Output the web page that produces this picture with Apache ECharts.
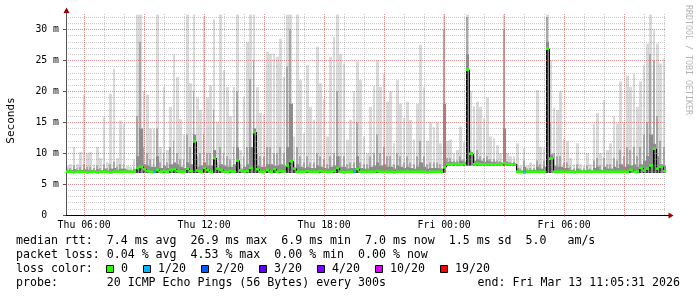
<!DOCTYPE html>
<html><head><meta charset="utf-8">
<script src="https://cdn.jsdelivr.net/npm/echarts@6/dist/echarts.min.js"></script>
<style>html,body{margin:0;padding:0;background:#fff}#c{width:697px;height:297px}</style>
</head><body><div id="c"></div>
<script>
// time in hours since Thu 00:00
const startHour = 5 + 5/60 + 31/3600;   // Thu 05:05:31
const endHour = startHour + 30;          // Fri 11:05:31
const slotHours = 1/6;                   // 10-minute slots

// smoke (ms): lowest ping, top of light / mid / dark layers, and median rtt
const smokeLow = [
 6.8,6.8,6.8,6.8,6.8,6.8,6.8,6.8,6.8,6.8, 6.8,6.8,6.8,6.8,6.8,6.8,6.8,6.8,6.8,6.8,
 6.8,6.8,6.8,6.8,6.8,6.8,6.8,6.8,6.8,6.8, 6.8,6.8,6.8,6.8,6.8,6.8,6.8,6.8,6.8,6.8,
 6.8,6.8,6.8,6.8,6.8,6.8,6.8,6.8,6.8,6.8, 6.8,6.8,6.8,6.8,6.8,6.8,6.8,6.8,6.8,6.8,
 6.8,6.8,6.8,6.8,6.8,6.8,6.8,6.8,6.8,6.8, 6.8,6.8,6.8,6.8,6.8,6.8,6.8,6.8,6.8,6.8,
 6.8,6.8,6.8,6.8,6.8,6.8,6.8,6.8,6.8,6.8, 6.8,6.8,6.8,6.8,6.8,6.8,6.8,6.8,6.8,6.8,
 6.8,6.8,6.8,6.8,6.8,6.8,6.8,6.8,6.8,6.8, 6.8,6.8,6.8,6.8,8.0,8.0,8.0,8.0,8.0,8.0,
 8.0,8.0,8.0,8.0,8.0,8.0,8.0,8.0,8.0,8.0, 8.0,8.0,8.0,8.0,8.0,6.8,6.8,6.8,6.8,6.8,
 6.8,6.8,6.8,6.8,6.8,6.8,6.8,6.8,6.8,6.8, 6.8,6.8,6.8,6.8,6.8,6.8,6.8,6.8,6.8,6.8,
 6.8,6.8,6.8,6.8,6.8,6.8,6.8,6.8,6.8,6.8, 6.8,6.8,6.8,6.8,6.8,6.8,6.8,6.8,6.8,6.8
];
const smokeMax = [
 8.0, 8.2, 11.0, 8.2, 10.2, 19.4, 10.0, 10.2, 8.2, 11.0,
 9.2, 15.9, 8.5, 19.6, 23.7, 9.2, 15.3, 14.8, 8.0, 7.8,
 9.0, 32.4, 32.4, 20.0, 19.5, 14.0, 14.0, 32.4, 11.0, 20.7,
 10.5, 17.5, 26.0, 22.3, 15.5, 13.0, 32.4, 21.3, 32.4, 19.0,
 17.0, 32.1, 19.0, 21.0, 31.6,
 15.1, 32.4, 23.4, 20.7, 16.0, 20.7, 32.4, 10.5, 19.1, 28.0,
 32.4, 32.4, 20.7, 16.5, 16.3, 26.4, 26.1, 26.1, 25.6, 28.5,
 22.3, 32.4, 32.4, 12.7, 32.4, 21.8, 13.2, 24.2, 17.5, 15.4,
 27.2, 21.3, 18.8, 12.7, 25.6, 28.8, 32.4, 26.0, 24.5, 12.2,
 15.4, 20.0, 24.8, 21.8, 12.7,
 10.0, 17.5, 20.9, 25.0, 20.7, 22.8, 18.3, 20.0, 11.6, 21.8,
 18.0, 15.7, 18.3, 15.4, 12.2, 18.0, 27.5, 20.7, 12.0, 15.0,
 14.2, 15.0, 11.6, 32.4, 12.0, 12.2, 10.0, 10.5, 14.3, 11.8,
 32.4, 20.0, 17.6, 18.3, 17.5, 15.6, 19.0, 12.7, 12.4, 11.3,
 10.0, 32.4, 10.0, 9.5, 9.5,
 11.6, 8.0, 10.8, 8.0, 8.5, 8.2, 20.2, 11.0, 10.8, 32.4,
 25.0, 17.3, 17.0, 20.0, 12.3, 12.0, 9.2, 8.2, 11.6, 8.2,
 8.0, 10.0, 8.2, 14.8, 16.5, 10.0, 18.6, 10.5, 11.6, 16.0,
 14.8, 21.6, 15.0, 22.6, 20.7, 22.8, 17.5, 21.6, 24.2, 27.7,
 32.4, 30.0, 27.7, 24.5, 25.3
];
const smokeMid = [
 7.5, 7.6, 8.0, 7.5, 7.8, 8.2, 7.8, 7.8, 7.6, 8.0,
 7.6, 8.2, 7.6, 8.2, 8.6, 7.8, 8.2, 8.2, 7.4, 7.3,
 7.8, 16.0, 28.0, 11.0, 10.0, 9.0, 9.0, 14.0, 8.5, 10.0,
 8.5, 11.0, 12.0, 10.0, 9.0, 9.0, 13.0, 11.0, 20.0, 9.5,
 10.0, 13.0, 10.0, 10.0, 17.0,
 8.5, 11.0, 10.0, 9.5, 9.0, 11.0, 20.0, 8.2, 9.5, 11.0,
 22.0, 25.0, 10.0, 9.5, 9.5, 11.0, 11.0, 10.0, 10.0, 11.0,
 10.0, 24.0, 30.0, 8.5, 11.0, 9.5, 8.5, 9.5, 8.5, 8.5,
 10.0, 9.5, 9.0, 8.2, 9.5, 10.0, 20.0, 9.5, 9.5, 8.2,
 8.5, 8.5, 15.0, 8.5, 8.2,
 8.2, 9.5, 10.0, 13.0, 10.0, 11.0, 9.5, 9.5, 8.2, 10.0,
 9.5, 8.5, 9.5, 8.5, 8.2, 9.5, 12.0, 9.5, 8.2, 8.5,
 8.5, 8.5, 8.2, 30.0, 9.2, 9.2, 8.8, 8.8, 9.5, 9.0,
 32.0, 10.5, 9.5, 10.5, 9.5, 9.2, 9.5, 9.0, 9.0, 8.8,
 8.7, 30.0, 8.7, 8.6, 8.6,
 8.2, 7.5, 8.8, 7.5, 7.6, 7.6, 8.8, 8.2, 8.8, 32.0,
 15.0, 10.0, 9.5, 9.5, 8.5, 8.5, 7.8, 7.5, 8.2, 7.5,
 7.5, 8.0, 7.5, 8.8, 9.2, 8.0, 9.2, 8.2, 8.2, 9.2,
 8.8, 10.5, 9.5, 11.0, 10.5, 11.0, 9.5, 11.0, 13.0, 15.0,
 26.0, 25.0, 16.0, 12.0, 11.0
];
const smokeInner = [
 7.2, 7.3, 7.4, 7.2, 7.3, 7.4, 7.3, 7.3, 7.2, 7.4,
 7.2, 7.5, 7.2, 7.5, 7.6, 7.3, 7.5, 7.5, 7.2, 7.2,
 7.4, 9.5, 14.0, 8.2, 8.0, 7.8, 7.8, 9.5, 7.6, 8.0,
 7.6, 8.2, 8.5, 8.2, 7.8, 7.6, 8.5, 8.2, 13.0, 7.8,
 8.0, 8.5, 8.0, 8.0, 10.5,
 7.6, 8.2, 8.0, 7.8, 7.8, 8.2, 11.0, 7.5, 7.8, 8.2,
 11.0, 14.0, 8.0, 7.8, 7.8, 8.2, 8.2, 8.0, 8.0, 8.2,
 8.0, 11.0, 18.0, 7.6, 8.2, 7.8, 7.6, 7.8, 7.6, 7.6,
 8.0, 7.8, 7.6, 7.5, 7.8, 8.0, 9.5, 7.8, 7.8, 7.5,
 7.6, 7.6, 9.5, 7.6, 7.5,
 7.5, 7.8, 8.0, 8.5, 8.0, 8.2, 7.8, 7.8, 7.5, 8.0,
 7.8, 7.6, 7.8, 7.6, 7.5, 7.8, 8.5, 7.8, 7.5, 7.6,
 7.6, 7.6, 7.5, 18.0, 8.6, 8.6, 8.5, 8.5, 8.8, 8.6,
 26.0, 10.2, 8.8, 9.0, 8.8, 8.6, 8.8, 8.6, 8.6, 8.5,
 8.5, 14.0, 8.5, 8.4, 8.4,
 7.6, 7.2, 7.8, 7.2, 7.3, 7.3, 7.8, 7.5, 7.8, 28.0,
 9.8, 8.0, 7.8, 7.8, 7.6, 7.6, 7.3, 7.2, 7.5, 7.2,
 7.2, 7.3, 7.2, 7.6, 7.8, 7.3, 7.8, 7.5, 7.5, 7.8,
 7.6, 8.2, 7.8, 8.2, 8.0, 8.2, 7.8, 8.2, 8.8, 9.5,
 13.0, 11.5, 9.5, 8.2, 8.0
];
const median = [
 7.0, 7.0, 6.9, 7.0, 7.0, 7.0, 6.9, 7.0, 7.0, 6.9,
 7.0, 7.0, 7.0, 6.9, 7.0, 7.0, 7.0, 7.0, 7.0, 7.0,
 7.0, 7.6, 7.8, 7.4, 7.1, 7.0, 7.0, 7.3, 7.0, 7.1,
 7.0, 7.3, 7.4, 7.1, 7.0, 7.0, 7.5, 7.1, 11.9, 7.2,
 7.0, 7.6, 7.3, 7.0, 9.2,
 7.5, 7.3, 7.0, 7.0, 7.1, 7.0, 8.8, 7.2, 7.0, 7.1,
 7.6, 13.4, 7.4, 7.0, 7.0, 7.3, 7.0, 7.4, 7.0, 7.1,
 7.0, 8.0, 8.7, 7.5, 7.0, 7.0, 7.0, 7.1, 7.0, 7.0,
 7.0, 7.1, 7.0, 7.0, 7.0, 7.1, 7.6, 7.0, 6.9, 7.0,
 7.0, 7.0, 7.4, 7.0, 7.0,
 7.0, 7.0, 7.0, 7.1, 7.0, 7.0, 7.0, 7.0, 6.9, 7.0,
 7.0, 7.0, 7.0, 7.0, 7.0, 7.0, 7.0, 7.0, 6.9, 7.0,
 7.0, 7.0, 7.0, 7.7, 8.2, 8.2, 8.3, 8.2, 8.2, 8.3,
 23.5, 9.9, 8.2, 8.3, 8.2, 8.2, 8.2, 8.2, 8.2, 8.2,
 8.2, 8.4, 8.2, 8.2, 8.2,
 7.0, 7.0, 6.9, 7.0, 7.0, 7.0, 7.0, 7.0, 7.0, 26.9,
 9.1, 7.0, 7.0, 7.0, 7.0, 7.0, 7.0, 6.9, 7.0, 7.0,
 7.0, 7.0, 7.0, 7.0, 7.0, 7.0, 7.0, 7.0, 7.0, 7.0,
 7.0, 7.0, 7.0, 7.0, 7.3, 7.0, 7.0, 7.6, 7.2, 7.5,
 8.0, 10.7, 7.5, 7.8, 7.1
];
// slots with 1/20 packet loss (median drawn in the loss colour)
const lossSlots = [26, 86, 137];
const lossSlotLevel = [1, 1, 1];

// axes
const yMax = 32.5;
const yMajorTicks = [0, 5, 10, 15, 20, 25, 30];
const yMinorTicks = [0,1,2,3,4,5,6,7,8,9,10,11,12,13,14,15,16,17,18,19,20,21,22,23,24,25,26,27,28,29,30,31,32];
const xLabelHours = [6, 12, 18, 24, 30];
const xMajorHours = [6, 9, 12, 15, 18, 21, 24, 27, 30, 33];
const xMinorHours = [6,7,8,9,10,11,12,13,14,15,16,17,18,19,20,21,22,23,24,25,26,27,28,29,30,31,32,33,34,35];

// legend
const lossColors = ['#26ff00', '#00b8ff', '#0059ff', '#5e00ff', '#7e00ff', '#dd00ff', '#ff0000'];
const lossLabels = ['0', '1/20', '2/20', '3/20', '4/20', '10/20', '19/20'];
const legendRows = [
  'median rtt:  7.4 ms avg  26.9 ms max  6.9 ms min  7.0 ms now  1.5 ms sd  5.0   am/s',
  'packet loss: 0.04 % avg  4.53 % max  0.00 % min  0.00 % now',
  'loss color:',
  'probe:       20 ICMP Echo Pings (56 Bytes) every 300s'
];
const endText = 'end: Fri Mar 13 11:05:31 2026';
const yTitle = 'Seconds';
const watermark = 'RRDTOOL / TOBI OETIKER';

const MONO = '"DejaVu Sans Mono", monospace';
const lossLevel = median.map(() => 0);
lossSlots.forEach((s, k) => { lossLevel[s] = lossSlotLevel[k]; });

function pad(n) { return (n < 10 ? '0' : '') + n; }
function hourLabel(h) { return (h < 24 ? 'Thu ' : 'Fri ') + pad(h % 24) + ':00'; }

// a smoke band from the lowest ping up to `tops`, drawn `frac` of a slot wide
function smokeLayer(tops, color, frac, z) {
  return {
    type: 'custom', silent: true, z: z, clip: true,
    data: tops.map((v, i) => [startHour + i * slotHours, v, smokeLow[i]]),
    renderItem(params, api) {
      const a = api.coord([api.value(0), api.value(1)]);
      const b = api.coord([api.value(0) + slotHours * frac, api.value(2)]);
      const x0 = Math.round(a[0]), x1 = Math.max(Math.round(b[0]), x0 + 1);
      return { type: 'rect', shape: { x: x0, y: a[1], width: x1 - x0, height: b[1] - a[1] }, style: { fill: color } };
    }
  };
}

const gridLineGray = 'rgba(150,150,150,0.5)';
const gridLineRed = 'rgba(225,90,90,0.5)';
const axisCommon = { min: startHour, max: endHour, type: 'value', z: 5, position: 'bottom' };

const option = {
  animation: false,
  backgroundColor: '#fff',
  grid: { left: 66, right: 31, top: 14, bottom: 82, containLabel: false },
  xAxis: [
    Object.assign({}, axisCommon, {
      axisLine: { show: false }, axisLabel: { show: false },
      axisTick: { show: false, customValues: xMinorHours },
      splitLine: { show: true, lineStyle: { color: gridLineGray, type: 'dotted', width: 1 } }
    }),
    Object.assign({}, axisCommon, {
      axisLine: { show: false }, axisLabel: { show: false },
      axisTick: { show: true, length: 2, inside: false, customValues: xMajorHours, lineStyle: { color: gridLineRed } },
      splitLine: { show: true, lineStyle: { color: gridLineRed, type: 'dotted', width: 1 } }
    }),
    Object.assign({}, axisCommon, {
      axisLine: { show: true, lineStyle: { color: '#000', width: 1 } },
      axisTick: { show: false, customValues: xLabelHours },
      splitLine: { show: false },
      axisLabel: { show: true, customValues: xLabelHours, formatter: hourLabel, margin: 5,
        fontFamily: MONO, fontSize: 9.8, color: '#000' }
    })
  ],
  yAxis: [
    { type: 'value', min: 0, max: yMax, z: 5, position: 'left',
      axisLine: { show: false }, axisLabel: { show: false },
      axisTick: { show: false, customValues: yMinorTicks },
      splitLine: { show: true, lineStyle: { color: gridLineGray, type: 'dotted', width: 1 } } },
    { type: 'value', min: 0, max: yMax, z: 5, position: 'left',
      axisLine: { show: true, lineStyle: { color: '#555', width: 1 } },
      axisTick: { show: true, length: 3, customValues: yMajorTicks, lineStyle: { color: '#555' } },
      splitLine: { show: true, lineStyle: { color: gridLineRed, type: 'dotted', width: 1 } },
      axisLabel: { show: true, customValues: yMajorTicks, margin: 7, fontFamily: MONO, fontSize: 9.8, color: '#000',
        formatter: v => v === 0 ? '0  ' : v + ' m' } }
  ],
  series: [
    smokeLayer(smokeMax, '#d9d9d9', 0.8, 2),
    smokeLayer(smokeMid, '#a8a8a8', 0.55, 2),
    smokeLayer(smokeInner, '#8c8c8c', 1, 2),
    smokeLayer(median, '#3a3a3a', 0.6, 2),
    {
      type: 'custom', silent: true, z: 3,
      data: median.slice(1).map((m, k) => [startHour + (k + 1) * slotHours, median[k], m]),
      renderItem(params, api) {
        if (Math.abs(api.value(1) - api.value(2)) < 0.25) return null;
        const a = api.coord([api.value(0), api.value(1)]);
        const b = api.coord([api.value(0), api.value(2)]);
        const x = Math.round(a[0]) + 0.5;
        return { type: 'line', shape: { x1: x, y1: a[1], x2: x, y2: b[1] }, style: { stroke: '#000', lineWidth: 1 } };
      }
    },
    {
      type: 'custom', silent: true, z: 6,
      data: median.map((m, i) => [startHour + i * slotHours, m, lossLevel[i]]),
      renderItem(params, api) {
        const a = api.coord([api.value(0), api.value(1)]);
        const b = api.coord([api.value(0) + slotHours, api.value(1)]);
        const x0 = Math.round(a[0]), x1 = Math.round(b[0]);
        return { type: 'rect', shape: { x: x0, y: a[1] - 1.3, width: x1 - x0, height: 2.6 },
          style: { fill: lossColors[api.value(2)] } };
      }
    }
  ]
};

const chart = echarts.init(document.getElementById('c'), null, { renderer: 'canvas', width: 697, height: 297 });
chart.setOption(option);

// decorations: arrows, titles, legend
const xL = chart.convertToPixel({ xAxisIndex: 2 }, startHour);
const xR = chart.convertToPixel({ xAxisIndex: 2 }, endHour);
const yB = chart.convertToPixel({ yAxisIndex: 1 }, 0);
const yT = chart.convertToPixel({ yAxisIndex: 1 }, yMax);
const ax = Math.round(xL) + 0.5, ay = Math.round(yB) + 0.5;
const arrowColor = '#9b0000';
const g = [
  { type: 'line', shape: { x1: xR, y1: ay, x2: xR + 3, y2: ay }, style: { stroke: '#000', lineWidth: 1 }, z: 10 },
  { type: 'line', shape: { x1: ax, y1: yT, x2: ax, y2: yT - 2 }, style: { stroke: '#555', lineWidth: 1 }, z: 10 },
  { type: 'polygon', shape: { points: [[xR + 2.5, ay - 3], [xR + 7.5, ay], [xR + 2.5, ay + 3]] }, style: { fill: arrowColor }, z: 10 },
  { type: 'polygon', shape: { points: [[ax - 3, yT - 1], [ax, yT - 6.5], [ax + 3, yT - 1]] }, style: { fill: arrowColor }, z: 10 },
  { type: 'text', x: 11, y: (yT + yB) / 2 + 6, rotation: Math.PI / 2,
    style: { text: yTitle, font: '11px ' + MONO, fill: '#000', align: 'center', verticalAlign: 'middle' } },
  { type: 'text', x: 688, y: 60, rotation: -Math.PI / 2,
    style: { text: watermark, font: '8.3px ' + MONO, fill: '#b4b4b4', align: 'center', verticalAlign: 'middle' } }
];
const rowY0 = 241, rowStep = 14, textX = 16, charW = 7;
legendRows.forEach((t, r) => {
  g.push({ type: 'text', x: textX, y: rowY0 + r * rowStep,
    style: { text: t, font: '11.6px ' + MONO, fill: '#000', align: 'left', verticalAlign: 'middle' } });
});
g.push({ type: 'text', x: 680, y: rowY0 + 3 * rowStep,
  style: { text: endText, font: '11.6px ' + MONO, fill: '#000', align: 'right', verticalAlign: 'middle' } });
let bx = textX + 13 * charW - 1;
lossLabels.forEach((lab, k) => {
  const yRow = rowY0 + 2 * rowStep;
  g.push({ type: 'rect', shape: { x: bx + 0.5, y: yRow - 3.5, width: 7, height: 7 },
    style: { fill: lossColors[k], stroke: '#000', lineWidth: 1 } });
  const lx = bx + 15;
  g.push({ type: 'text', x: lx, y: yRow,
    style: { text: lab, font: '11.6px ' + MONO, fill: '#000', align: 'left', verticalAlign: 'middle' } });
  bx = lx + lab.length * charW + 15;
});
chart.setOption({ graphic: g });
</script></body></html>
